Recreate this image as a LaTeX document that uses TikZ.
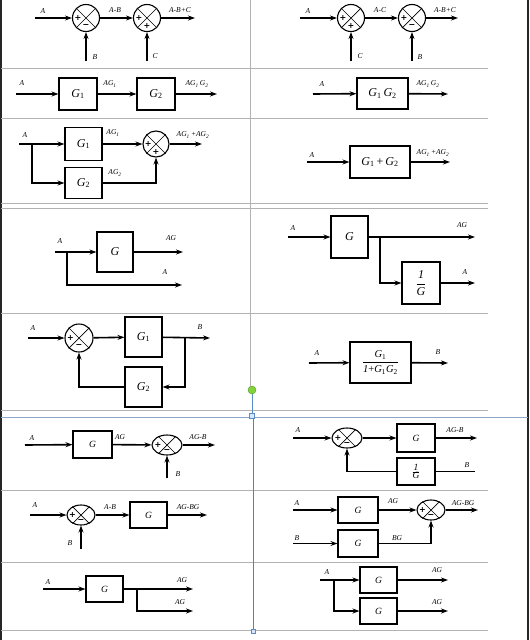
\documentclass[tikz,border=0pt]{standalone}
\usepackage{fontspec}
\setmainfont{Liberation Serif}
\newfontfamily\signfont{DejaVu Sans}
\usetikzlibrary{arrows.meta,shapes.geometric,calc}
\newcommand\Gi[1]{\textit{G}\textsubscript{#1}}
\newcommand\sumnode[6]{%
  \node[sumc, minimum width=#3pt, minimum height=#4pt] (#1) at (#2) {};
  \draw[line width=0.7pt] (#1.45) -- (#1.225) (#1.135) -- (#1.315);
  \node[sgn] at ($(#1.center)!0.58!(#1.west)$) {#5};
  \node[sgn] at ($(#1.center)!0.56!(#1.south)$) {#6};
}
\tikzset{
  arr/.style={line width=1.6pt, -{Stealth[length=7pt,width=5pt]}},
  ln/.style={line width=1.6pt},
  blk/.style={draw, line width=1.1pt, inner sep=0pt, font=\fontsize{12}{13}\selectfont},
  blks/.style={blk, font=\fontsize{9.5}{10}\selectfont},
  sumc/.style={draw, ellipse, line width=1.1pt, inner sep=0pt},
  lab/.style={font=\fontsize{7.5}{8}\selectfont\itshape, inner sep=0pt},
  sgn/.style={font=\signfont\bfseries\fontsize{8}{8}\selectfont, inner sep=0pt},
  gridl/.style={draw=black!30, line width=1pt},
}
\begin{document}
\begin{tikzpicture}[x=1pt,y=-1pt]
\useasboundingbox (0,0) rectangle (530,640);
% ---------- table lines ----------
\draw[black!85, line width=1.5pt] (1,0) -- (1,640);
\draw[black!85, line width=1.5pt] (528,0) -- (528,640);
\foreach \yy in {68,118,203,208,313,410,490,562,630}
  \draw[gridl] (1,\yy) -- (488,\yy);
\draw[draw={rgb,255:red,140;green,165;blue,200}, line width=1pt] (1,417) -- (528,417);
\draw[gridl] (250,0) -- (250,386);
\draw[draw={rgb,255:red,110;green,125;blue,150}, line width=0.8pt] (253,417) -- (253,630);
\node[circle, draw={rgb,255:red,80;green,150;blue,40}, fill={rgb,255:red,130;green,210;blue,60}, minimum size=8pt, inner sep=0pt] (hdl) at (252,390) {};
\node[draw={rgb,255:red,90;green,140;blue,200}, fill={rgb,255:red,215;green,230;blue,250}, minimum size=5pt, inner sep=0pt] (hsq) at (252,416) {};
\draw[draw={rgb,255:red,90;green,140;blue,200}, line width=0.6pt] (hdl) -- (hsq);
\node[draw={rgb,255:red,90;green,140;blue,200}, fill={rgb,255:red,215;green,230;blue,250}, minimum size=4pt, inner sep=0pt] (hsq2) at (253,631) {};

% ---------- Row 1 left ----------
\sumnode{sa1}{86,18}{27}{27}{+}{−}
\sumnode{sa2}{147,18}{27}{27}{+}{+}
\coordinate (ina1) at (35,18);
\coordinate (outa1) at (195,18);
\coordinate (ba1) at (86,61);
\coordinate (ca1) at (147,61);
\draw[arr] (ina1) -- (sa1);
\draw[arr] (sa1) -- (sa2);
\draw[arr] (sa2) -- (outa1);
\draw[arr] (ba1) -- (sa1);
\draw[arr] (ca1) -- (sa2);
\node[lab] (la1) at (43,11) {A};
\node[lab] (la2) at (115,10) {A-B};
\node[lab] (la3) at (180,10) {A-B+C};
\node[lab] (la4) at (95,57) {B};
\node[lab] (la5) at (155,56) {C};

% ---------- Row 1 right ----------
\sumnode{sb1}{351,18}{27}{27}{+}{+}
\sumnode{sb2}{412,18}{27}{27}{+}{−}
\coordinate (inb1) at (300,18);
\coordinate (outb1) at (458,18);
\coordinate (cb1) at (351,61);
\coordinate (bb1) at (412,61);
\draw[arr] (inb1) -- (sb1);
\draw[arr] (sb1) -- (sb2);
\draw[arr] (sb2) -- (outb1);
\draw[arr] (cb1) -- (sb1);
\draw[arr] (bb1) -- (sb2);
\node[lab] (lb1) at (308,11) {A};
\node[lab] (lb2) at (380,10) {A-C};
\node[lab] (lb3) at (445,10) {A-B+C};
\node[lab] (lb4) at (360,56) {C};
\node[lab] (lb5) at (420,57) {B};

% ---------- Row 2 left ----------
\node[blk, minimum width=38pt, minimum height=32pt] (g21) at (78,94) {\Gi1};
\node[blk, minimum width=38pt, minimum height=32pt] (g22) at (156,94) {\Gi2};
\coordinate (in2) at (16,94);
\coordinate (out2) at (217,94);
\draw[arr] (in2) -- (g21);
\draw[arr] (g21) -- (g22);
\draw[arr] (g22) -- (out2);
\node[lab] (l21) at (22,83) {A};
\node[lab] (l22) at (110,84) {AG\textsubscript{1}};
\node[lab] (l23) at (197,84) {AG\textsubscript{1}\,G\textsubscript{2}};

% ---------- Row 2 right ----------
\node[blk, minimum width=51pt, minimum height=31pt] (g2r) at (382.5,93.5) {\Gi1\,\Gi2};
\coordinate (in2r) at (313,94);
\coordinate (out2r) at (448,94);
\draw[arr] (in2r) -- (g2r);
\draw[arr] (g2r) -- (out2r);
\node[lab] (l2r1) at (322,84) {A};
\node[lab] (l2r2) at (428,84) {AG\textsubscript{1}\,G\textsubscript{2}};

% ---------- Row 3 left ----------
\node[blk, minimum width=37pt, minimum height=33pt] (g31) at (83.5,144) {\Gi1};
\node[blk, minimum width=37pt, minimum height=31pt] (g32) at (83.5,183) {\Gi2};
\sumnode{s3}{156,144}{26}{26}{+}{+}
\coordinate (in3) at (19,144);
\coordinate (br3) at (32,144);
\coordinate (out3) at (202,144);
\draw[arr] (in3) -- (g31);
\draw[arr] (br3) |- (g32);
\draw[arr] (g31) -- (s3);
\draw[arr] (g32) -| (s3);
\draw[arr] (s3) -- (out3);
\node[lab] (l31) at (25,135) {A};
\node[lab] (l32) at (113,133) {AG\textsubscript{1}};
\node[lab] (l33) at (115,173) {AG\textsubscript{2}};
\node[lab] (l34) at (193,135) {AG\textsubscript{1}\,+AG\textsubscript{2}};

% ---------- Row 3 right ----------
\node[blk, minimum width=60pt, minimum height=32pt] (g3r) at (380,162) {\Gi1\,+\,\Gi2};
\coordinate (in3r) at (307,162);
\coordinate (out3r) at (450,162);
\draw[arr] (in3r) -- (g3r);
\draw[arr] (g3r) -- (out3r);
\node[lab] (l3r1) at (312,155) {A};
\node[lab] (l3r2) at (433,153) {AG\textsubscript{1}\,+AG\textsubscript{2}};

% ---------- Row 4 left ----------
\node[blk, minimum width=36pt, minimum height=40pt] (g4) at (115,252) {\textit{G}};
\coordinate (in4) at (55,252);
\coordinate (br4) at (67,252);
\coordinate (out4) at (183,252);
\coordinate (out4b) at (182,285);
\draw[arr] (in4) -- (g4);
\draw[arr] (g4) -- (out4);
\draw[arr] (br4) |- (out4b);
\node[lab] (l41) at (60,241) {A};
\node[lab] (l42) at (171,238) {AG};
\node[lab] (l43) at (165,272) {A};

% ---------- Row 4 right ----------
\node[blk, minimum width=37pt, minimum height=42pt] (g4r) at (349.5,237) {\textit{G}};
\node[blk, minimum width=38pt, minimum height=42pt] (ig4r) at (421,283) {$\displaystyle\frac{\hbox{\textit{1}}}{\hbox{\textit{G}}}$};
\coordinate (in4r) at (288,237);
\coordinate (br4r) at (380,237);
\coordinate (out4r) at (475,237);
\coordinate (out4rb) at (475,283);
\draw[arr] (in4r) -- (g4r);
\draw[arr] (g4r) -- (out4r);
\draw[arr] (br4r) |- (ig4r);
\draw[arr] (ig4r) -- (out4rb);
\node[lab] (l4r1) at (293,228) {A};
\node[lab] (l4r2) at (462,225) {AG};
\node[lab] (l4r3) at (465,272) {A};

% ---------- Row 5 left ----------
\sumnode{s5}{79,338}{28}{28}{+}{−}
\node[blk, minimum width=37pt, minimum height=40pt] (g51) at (143.5,337) {\Gi1};
\node[blk, minimum width=37pt, minimum height=40pt] (g52) at (143.5,387) {\Gi2};
\coordinate (in5) at (28,338);
\coordinate (br5) at (185,338);
\coordinate (out5) at (210,338);
\draw[arr] (in5) -- (s5);
\draw[arr] (s5) -- (g51);
\draw[arr] (g51) -- (out5);
\draw[arr] (br5) |- (g52);
\draw[arr] (g52) -| (s5);
\node[lab] (l51) at (33,328) {A};
\node[lab] (l52) at (200,327) {B};

% ---------- Row 5 right ----------
\node[blk, minimum width=61pt, minimum height=41pt, font=\fontsize{10.5}{11}\selectfont] (g5r) at (380.5,362.5)
  {$\displaystyle\frac{\hbox{\Gi1}}{\hbox{\textit{1}+\Gi1\Gi2}}$};
\coordinate (in5r) at (309,363);
\coordinate (out5r) at (448,363);
\draw[arr] (in5r) -- (g5r);
\draw[arr] (g5r) -- (out5r);
\node[lab] (l5r1) at (317,353) {A};
\node[lab] (l5r2) at (438,352) {B};

% ---------- Row 6 left ----------
\node[blks, minimum width=39pt, minimum height=27pt] (g6) at (92.5,444.5) {\textit{G}};
\sumnode{s6}{167,445}{30}{20}{+}{−}
\coordinate (in6) at (25,445);
\coordinate (out6) at (215,445);
\coordinate (b6) at (167,478);
\draw[arr] (in6) -- (g6);
\draw[arr] (g6) -- (s6);
\draw[arr] (s6) -- (out6);
\draw[arr] (b6) -- (s6);
\node[lab] (l61) at (32,438) {A};
\node[lab] (l62) at (120,437) {AG};
\node[lab] (l63) at (198,437) {AG-B};
\node[lab] (l64) at (178,474) {B};

% ---------- Row 6 right ----------
\sumnode{s6r}{347,438}{30}{20}{+}{−}
\node[blks, minimum width=38pt, minimum height=28pt] (g6r) at (416,438) {\textit{G}};
\node[blks, minimum width=38pt, minimum height=27pt] (ig6r) at (416,471.5) {$\frac{\hbox{\textit{1}}}{\hbox{\textit{G}}}$};
\coordinate (in6r) at (293,438);
\coordinate (out6r) at (477,438);
\coordinate (b6r) at (475,471.5);
\draw[arr] (in6r) -- (s6r);
\draw[arr] (s6r) -- (g6r);
\draw[arr] (g6r) -- (out6r);
\draw[ln] (ig6r) -- (b6r);
\draw[arr] (ig6r) -| (s6r);
\node[lab] (l6r1) at (298,430) {A};
\node[lab] (l6r2) at (455,430) {AG-B};
\node[lab] (l6r3) at (467,465) {B};

% ---------- Row 7 left ----------
\sumnode{s7}{81,515}{28}{20}{+}{−}
\node[blks, minimum width=37pt, minimum height=26pt] (g7) at (148.5,515) {\textit{G}};
\coordinate (in7) at (30,515);
\coordinate (out7) at (207,515);
\coordinate (b7) at (81,549);
\draw[arr] (in7) -- (s7);
\draw[arr] (s7) -- (g7);
\draw[arr] (g7) -- (out7);
\draw[arr] (b7) -- (s7);
\node[lab] (l71) at (35,505) {A};
\node[lab] (l72) at (110,507) {A-B};
\node[lab] (l73) at (188,507) {AG-BG};
\node[lab] (l74) at (70,543) {B};

% ---------- Row 8 left ----------
\node[blks, minimum width=37pt, minimum height=26pt] (g8) at (104.5,589) {\textit{G}};
\coordinate (in8) at (43,589);
\coordinate (br8) at (137,589);
\coordinate (out8) at (193,589);
\coordinate (out8b) at (193,611);
\draw[arr] (in8) -- (g8);
\draw[arr] (g8) -- (out8);
\draw[arr] (br8) |- (out8b);
\node[lab] (l81) at (48,582) {A};
\node[lab] (l82) at (182,580) {AG};
\node[lab] (l83) at (180,602) {AG};

% ---------- Row 7 right ----------
\node[blks, minimum width=40pt, minimum height=26pt] (g7a) at (358,510) {\textit{G}};
\node[blks, minimum width=40pt, minimum height=27pt] (g7b) at (358,543.5) {\textit{G}};
\sumnode{s7r}{431,510}{28}{20}{+}{−}
\coordinate (in7a) at (293,510);
\coordinate (in7b) at (293,543.5);
\coordinate (out7r) at (478,510);
\draw[arr] (in7a) -- (g7a);
\draw[arr] (in7b) -- (g7b);
\draw[arr] (g7a) -- (s7r);
\draw[arr] (g7b) -| (s7r);
\draw[arr] (s7r) -- (out7r);
\node[lab] (l7r1) at (297,503) {A};
\node[lab] (l7r2) at (393,501) {AG};
\node[lab] (l7r3) at (463,503) {AG-BG};
\node[lab] (l7r4) at (297,538) {B};
\node[lab] (l7r5) at (397,538) {BG};

% ---------- Row 8 right ----------
\node[blks, minimum width=37pt, minimum height=26pt] (g8a) at (378.5,580) {\textit{G}};
\node[blks, minimum width=37pt, minimum height=26pt] (g8b) at (378.5,611) {\textit{G}};
\coordinate (in8r) at (320,580);
\coordinate (br8r) at (334,580);
\coordinate (out8a) at (448,580);
\coordinate (out8b2) at (448,611);
\draw[arr] (in8r) -- (g8a);
\draw[arr] (br8r) |- (g8b);
\draw[arr] (g8a) -- (out8a);
\draw[arr] (g8b) -- (out8b2);
\node[lab] (l8r1) at (327,572) {A};
\node[lab] (l8r2) at (437,570) {AG};
\node[lab] (l8r3) at (437,602) {AG};
\end{tikzpicture}
\end{document}
